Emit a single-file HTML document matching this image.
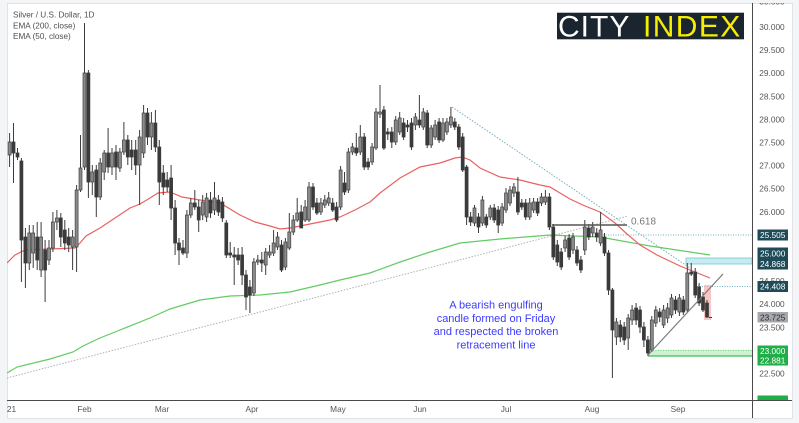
<!DOCTYPE html>
<html><head><meta charset="utf-8"><style>
html,body{margin:0;padding:0;background:#f4f5f7;}
svg{display:block;font-family:"Liberation Sans",Arial,sans-serif;}
</style></head><body>
<svg width="799" height="423" viewBox="0 0 799 423" xmlns="http://www.w3.org/2000/svg">
<rect x="0" y="0" width="799" height="423" fill="#f4f5f7"/>
<rect x="7.5" y="3.5" width="785" height="415" fill="#ffffff" stroke="#dfe2e8" stroke-width="1"/>

<!-- legend -->
<g fill="#4f4f4f" font-size="8.2">
<text x="13" y="17.5">Silver / U.S. Dollar, 1D</text>
<text x="13" y="28.3">EMA (200, close)</text>
<text x="13" y="39">EMA (50, close)</text>
</g>

<!-- logo -->
<rect x="557" y="12.7" width="187" height="26.6" fill="#1b2530"/>
<text x="558" y="36.5" font-size="30" fill="#ffffff" letter-spacing="1">CITY</text>
<text x="643" y="36.5" font-size="30" fill="#f5ee00" letter-spacing="1.4">INDEX</text>

<defs><clipPath id="plot"><rect x="7" y="3" width="745.5" height="397"/></clipPath></defs>
<g clip-path="url(#plot)">
<!-- level zones -->
<line x1="603" y1="235" x2="752" y2="235" stroke="#6fb2c0" stroke-width="1" stroke-dasharray="1 1.5"/>
<rect x="686" y="258" width="66" height="6" fill="#c5ecf1" stroke="#79c6d1" stroke-width="0.8"/>
<line x1="697" y1="286.5" x2="752" y2="286.5" stroke="#6fb2c0" stroke-width="1" stroke-dasharray="1 1.5"/>
<rect x="648" y="350" width="104" height="6" fill="#cdf2cf"/>
<line x1="648" y1="350.3" x2="752" y2="350.3" stroke="#66cc77" stroke-width="0.8" stroke-dasharray="1 1.5"/>
<line x1="648" y1="356" x2="752" y2="356" stroke="#3dbb50" stroke-width="1.2"/>
<rect x="704" y="285" width="7" height="35" fill="#f4b3b3" opacity="0.75"/>

<!-- trend lines -->
<line x1="7" y1="378" x2="628" y2="216" stroke="#b0b0b0" stroke-width="1" stroke-dasharray="1.5 1.5"/>
<line x1="452" y1="107" x2="690" y2="268" stroke="#7aaebc" stroke-width="1" stroke-dasharray="1.5 1.5"/>

<!-- EMA 200 -->
<polyline fill="none" stroke="#62cc62" stroke-width="1.2" points="7,373 17,367 50,359 73,352 83,346 100,338 120,330 150,318 170,309 200,300 230,296 260,295 290,292 320,285 340,280 370,273 400,262 430,252 460,243 500,239 550,235 600,237 650,246 710,255"/>
<!-- EMA 50 -->
<polyline fill="none" stroke="#eb6060" stroke-width="1.2" points="7,263 15,255 25,250 50,249 75,248 80,243 86,236 100,228 115,218 130,208 140,204 150,198 158,193 170,192 182,197 200,200 220,203 240,215 255,222 270,226 280,229 290,228 305,225 330,220 340,217 355,210 370,202 380,193 400,178 420,167 440,163 455,158 462,157 470,160 480,168 500,177 520,180 540,185 550,187 560,193 570,199 585,206 600,212 615,223 627,234 640,245 657,255 680,266 710,278"/>

<!-- wicks -->
<path fill="none" stroke="#3c3c3c" stroke-width="1" d="M9.6 133V167M13.5 123V183M17.5 148V160M21.4 158V282M25.4 228V288M29.3 225V270M33.2 225V268M37.2 222V270M41.1 222V277M45.1 240V302M49 240V265M52.9 212V252M56.9 210V230M60.8 213V247M64.8 220V250M68.7 228V252M72.6 230V270M76.6 185V272M80.5 135V192M84.5 23V170M88.4 70V198M92.3 165V195M96.3 165V217M100.2 158V200M104.2 150V180M108.1 128V173M112 148V175M116 145V180M119.9 148V172M123.9 122V155M127.8 135V165M131.7 140V170M135.7 140V175M139.6 130V205M143.6 105V158M147.5 108V145M151.4 112V150M155.4 110V152M159.3 140V205M163.3 165V195M167.2 172V192M171.1 165V220M175.1 200V255M179 238V265M183 240V255M186.9 210V258M190.8 198V218M194.8 190V210M198.7 200V232M202.7 195V220M206.6 193V222M210.5 192V218M214.5 182V215M218.4 195V216M222.4 197V222M226.3 220V258M230.2 242V258M234.2 247V285M238.1 248V265M242.1 247V285M246 270V310M249.9 280V313M253.9 258V296M257.8 255V265M261.8 252V272M265.7 248V275M269.6 245V258M273.6 230V256M277.5 232V250M281.5 240V272M285.4 238V270M289.3 213V250M293.3 215V235M297.2 198V222M301.2 205V228M305.1 200V222M309 182V222M313 183V210M316.9 198V215M320.9 198V215M324.8 195V208M328.7 192V206M332.7 198V212M336.6 202V222M340.6 166V210M344.5 172V195M348.4 148V193M352.4 143V155M356.3 133V156M360.3 125V155M364.2 133V170M368.1 158V170M372.1 143V165M376 108V150M380 85V118M383.9 106V150M387.8 128V140M391.8 127V148M395.7 116V145M399.7 112V135M403.6 118V140M407.5 120V132M411.5 118V150M415.4 113V130M419.4 95V128M423.3 108V130M427.2 110V148M431.2 125V148M435.1 120V140M439.1 118V143M443 118V142M446.9 118V135M450.9 107V128M454.8 118V130M458.8 124V150M462.7 133V172M466.6 165V225M470.6 212V226M474.5 205V226M478.5 213V233M482.4 196V226M486.3 214V228M490.3 205V220M494.2 204V223M498.2 206V233M502.1 203V226M506 188V213M510 186V206M513.9 183V197M517.9 177V215M521.8 199V210M525.7 199V220M529.7 198V220M533.6 198V213M537.6 198V216M541.5 193V206M545.4 190V205M549.4 193V230M553.3 224V260M557.3 240V266M561.2 248V270M565.1 236V252M569.1 234V260M573 233V254M577 246V266M580.9 256V273M584.8 220V255M588.8 224V240M592.7 222V237M596.7 228V242M600.6 212V246M604.5 233V256M608.5 250V295M612.4 288V378M616.4 318V345M620.3 320V342M624.2 322V345M628.2 314V350M632.1 305V325M636.1 303V325M640 306V333M643.9 322V347M647.9 336V356M651.8 316V352M655.8 306V327M659.7 308V322M663.6 305V328M667.6 303V323M671.5 294V318M675.5 296V314M679.4 294V316M683.3 296V315M687.3 263V312M691.2 263V276M695.2 268V298M699.1 283V306M703 292V312M707 300V318"/>

<!-- up bodies -->
<path fill="#8a8a8a" stroke="#444" stroke-width="0.7" d="M8.1 142h3v13h-3zM27.8 233h3v30h-3zM31.7 233h3v20h-3zM39.6 237h3v33h-3zM47.5 248h3v12h-3zM51.4 222h3v26h-3zM55.4 218h3v4h-3zM71.1 237h3v10h-3zM75.1 190h3v57h-3zM79 168h3v22h-3zM83 73h3v94h-3zM90.8 172h3v10h-3zM98.7 163h3v34h-3zM102.7 153h3v19h-3zM110.5 153h3v14h-3zM118.4 152h3v16h-3zM122.4 140h3v12h-3zM138.1 137h3v28h-3zM142.1 113h3v40h-3zM149.9 123h3v14h-3zM185.4 215h3v38h-3zM189.3 203h3v12h-3zM201.2 202h3v13h-3zM205.1 198h3v19h-3zM213 198h3v12h-3zM252.4 262h3v31h-3zM256.3 260h3v2h-3zM264.2 252h3v13h-3zM268.1 252h3v3h-3zM272.1 243h3v10h-3zM276 237h3v10h-3zM283.9 242h3v25h-3zM287.8 232h3v16h-3zM291.8 220h3v12h-3zM295.7 213h3v7h-3zM303.6 207h3v13h-3zM307.5 187h3v33h-3zM319.4 203h3v9h-3zM323.3 200h3v5h-3zM327.2 198h3v5h-3zM339.1 170h3v37h-3zM346.9 152h3v38h-3zM350.9 147h3v5h-3zM358.8 137h3v15h-3zM370.6 147h3v15h-3zM374.5 112h3v36h-3zM378.5 112h3v2h-3zM394.2 120h3v22h-3zM398.2 118h3v14h-3zM413.9 117h3v8h-3zM421.8 112h3v15h-3zM429.7 128h3v17h-3zM433.6 125h3v12h-3zM441.5 123h3v17h-3zM445.4 122h3v10h-3zM449.4 117h3v8h-3zM473 208h3v15h-3zM480.9 200h3v23h-3zM488.8 208h3v9h-3zM500.6 207h3v16h-3zM504.5 193h3v17h-3zM508.5 190h3v13h-3zM512.4 187h3v6h-3zM528.2 203h3v14h-3zM532.1 202h3v8h-3zM540 197h3v6h-3zM543.9 197h3v5h-3zM563.6 240h3v8h-3zM571.5 237h3v13h-3zM583.3 227h3v23h-3zM591.2 227h3v6h-3zM599.1 230h3v13h-3zM614.9 322h3v15h-3zM626.7 318h3v20h-3zM630.6 310h3v10h-3zM650.3 320h3v30h-3zM654.3 310h3v13h-3zM662.1 310h3v15h-3zM666.1 308h3v10h-3zM670 298h3v17h-3zM677.9 298h3v14h-3zM685.8 273h3v37h-3z"/>

<!-- down bodies -->
<path fill="#3a3a3a" stroke="#3a3a3a" stroke-width="0.7" d="M12 142h3v11h-3zM16 153h3v4h-3zM19.9 161h3v79h-3zM23.9 237h3v26h-3zM35.7 237h3v23h-3zM43.6 250h3v20h-3zM59.3 218h3v19h-3zM63.3 230h3v13h-3zM67.2 237h3v8h-3zM86.9 73h3v109h-3zM94.8 170h3v27h-3zM106.6 153h3v14h-3zM114.5 152h3v15h-3zM126.3 140h3v17h-3zM130.2 150h3v7h-3zM134.2 150h3v15h-3zM146 113h3v24h-3zM153.9 123h3v24h-3zM157.8 147h3v35h-3zM161.8 173h3v14h-3zM165.7 180h3v7h-3zM169.6 178h3v30h-3zM173.6 208h3v35h-3zM177.5 243h3v7h-3zM181.5 248h3v5h-3zM193.3 203h3v4h-3zM197.2 207h3v13h-3zM209 200h3v13h-3zM216.9 200h3v12h-3zM220.9 202h3v16h-3zM224.8 223h3v32h-3zM228.7 253h3v2h-3zM232.7 255h3v2h-3zM236.6 255h3v5h-3zM240.6 255h3v20h-3zM244.5 275h3v22h-3zM248.4 287h3v8h-3zM260.3 260h3v3h-3zM280 245h3v25h-3zM299.7 212h3v16h-3zM311.5 187h3v20h-3zM315.4 203h3v10h-3zM331.2 203h3v7h-3zM335.1 207h3v13h-3zM343 183h3v9h-3zM354.8 148h3v5h-3zM362.7 137h3v30h-3zM366.6 162h3v5h-3zM382.4 110h3v38h-3zM386.3 132h3v2h-3zM390.3 132h3v10h-3zM402.1 123h3v14h-3zM406 125h3v2h-3zM410 123h3v24h-3zM417.9 120h3v5h-3zM425.7 113h3v32h-3zM437.6 122h3v18h-3zM453.3 122h3v5h-3zM457.3 127h3v20h-3zM461.2 137h3v33h-3zM465.1 167h3v50h-3zM469.1 217h3v5h-3zM477 217h3v10h-3zM484.8 217h3v8h-3zM492.7 208h3v12h-3zM496.7 210h3v15h-3zM516.4 192h3v20h-3zM520.3 203h3v4h-3zM524.2 203h3v14h-3zM536.1 202h3v11h-3zM547.9 197h3v30h-3zM551.8 227h3v30h-3zM555.8 245h3v17h-3zM559.7 252h3v15h-3zM567.6 238h3v19h-3zM575.5 250h3v13h-3zM579.4 260h3v10h-3zM587.3 228h3v9h-3zM595.2 233h3v4h-3zM603 237h3v16h-3zM607 253h3v37h-3zM610.9 290h3v40h-3zM618.8 325h3v12h-3zM622.7 327h3v13h-3zM634.6 308h3v12h-3zM638.5 310h3v17h-3zM642.4 327h3v13h-3zM646.4 340h3v13h-3zM658.2 312h3v5h-3zM674 300h3v10h-3zM681.8 300h3v12h-3zM689.7 272h3v2h-3zM693.7 272h3v23h-3zM697.6 287h3v16h-3zM701.5 297h3v13h-3zM705.5 303h3v14h-3z"/>
<line x1="709" y1="317.5" x2="712" y2="317.5" stroke="#333" stroke-width="1"/>

<!-- fib + ascending line -->
<line x1="552" y1="225" x2="627" y2="225" stroke="#555" stroke-width="1.5"/>
<text x="631" y="224.5" font-size="10" fill="#777">0.618</text>
<line x1="648" y1="355" x2="723" y2="274" stroke="#7a7a7a" stroke-width="1.2"/>

<!-- annotation -->
<g fill="#3b3bff" font-size="11" text-anchor="middle">
<text x="496" y="308.5">A bearish engulfing</text>
<text x="496" y="322">candle formed on Friday</text>
<text x="496" y="335.2">and respected the broken</text>
<text x="496" y="348.4">retracement line</text>
</g>
</g>

<!-- axes -->
<line x1="752.5" y1="3" x2="752.5" y2="418" stroke="#4a4a4a" stroke-width="1"/>
<line x1="7" y1="400.5" x2="792" y2="400.5" stroke="#4a4a4a" stroke-width="1"/>

<!-- price ticks -->
<g fill="#555" font-size="8.3" text-anchor="middle">
<text x="772" y="4.5">30.500</text>
<text x="772" y="30">30.000</text>
<text x="772" y="53.1">29.500</text>
<text x="772" y="76.2">29.000</text>
<text x="772" y="99.3">28.500</text>
<text x="772" y="122.4">28.000</text>
<text x="772" y="145.5">27.500</text>
<text x="772" y="168.6">27.000</text>
<text x="772" y="191.7">26.500</text>
<text x="772" y="214.8">26.000</text>
<text x="772" y="284.1">24.500</text>
<text x="772" y="307.2">24.000</text>
<text x="772" y="330.3">23.500</text>
<text x="772" y="376.5">22.500</text>
</g>
<rect x="3" y="0" width="796" height="3" fill="#f4f5f7"/>

<!-- price labels -->
<g font-size="8.3" text-anchor="middle">
<rect x="757.5" y="229.5" width="30.5" height="11" fill="#1e4b57"/>
<text x="772.7" y="238" fill="#fff">25.505</text>
<rect x="757.5" y="247.5" width="30.5" height="22" fill="#1e4b57"/>
<text x="772.7" y="256.5" fill="#fff">25.000</text>
<text x="772.7" y="267" fill="#fff">24.868</text>
<rect x="757.5" y="281" width="30.5" height="11" fill="#1e4b57"/>
<text x="772.7" y="289.5" fill="#fff">24.408</text>
<rect x="757.5" y="312" width="30.5" height="10.5" fill="#a7a8ae"/>
<text x="772.7" y="320.3" fill="#2a2a2a">23.725</text>
<rect x="757.5" y="345.5" width="30.5" height="20" fill="#1fae47"/>
<text x="772.7" y="353.8" fill="#fff">23.000</text>
<text x="772.7" y="363.6" fill="#fff">22.881</text>
<rect x="757.5" y="395.5" width="30.5" height="4.5" fill="#1fae47"/>
</g>

<!-- time axis -->
<g fill="#555" font-size="8.3" text-anchor="middle">
<text x="11.5" y="412">21</text>
<text x="84.5" y="412">Feb</text>
<text x="162" y="412">Mar</text>
<text x="252" y="412">Apr</text>
<text x="338" y="412">May</text>
<text x="420" y="412">Jun</text>
<text x="506" y="412">Jul</text>
<text x="592" y="412">Aug</text>
<text x="678" y="412">Sep</text>
</g>
</svg>
</body></html>
